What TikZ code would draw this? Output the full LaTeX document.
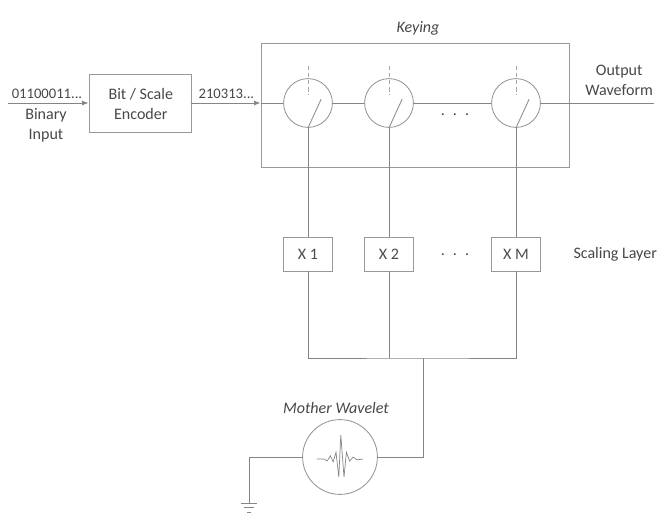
\documentclass[tikz,border=0pt]{standalone}
\usepackage{fontspec}
\setmainfont{Carlito}
\usepackage{tikz}
\usetikzlibrary{arrows.meta,calc,positioning}

\begin{document}
\begin{tikzpicture}[
font=\fontsize{11.4}{14.2}\selectfont,
wire/.style={line width=0.6pt, draw=black!48},
arrow/.style={-{Latex[length=1.6mm,width=1.2mm]}, line width=0.6pt, draw=black!48},
block/.style={draw=black!40, line width=0.6pt, align=center, text=black!70, inner sep=0pt},
switch/.style={circle, draw=black!42, line width=0.6pt, minimum size=1.22cm, inner sep=0pt},
label/.style={align=center, text=black!72, inner sep=0pt},
digits/.style={label, font=\fontsize{10.4}{12}\selectfont},
pole/.style={densely dashed, line width=0.4pt, draw=black!35},
blade/.style={line width=0.6pt, draw=black!45}
]
\useasboundingbox (0,0) rectangle (16.5,-12.925);

\node[block, minimum width=2.55cm, minimum height=1.45cm] (encoder) at (3.5,-2.575) {};
\node[block, minimum width=7.7cm, minimum height=3.1cm] (keyingbox) at (10.375,-2.625) {};
\node[switch] (sw1) at (7.7,-2.575) {};
\node[switch] (sw2) at (9.725,-2.575) {};
\node[switch] (sw3) at (12.9,-2.575) {};
\node[block, minimum width=1.225cm, minimum height=.85cm] (x1) at (7.7,-6.35) {X 1};
\node[block, minimum width=1.225cm, minimum height=.85cm] (x2) at (9.725,-6.35) {X 2};
\node[block, minimum width=1.225cm, minimum height=.85cm] (xm) at (12.9,-6.35) {X M};
\node[switch, minimum size=1.87cm] (wavelet) at (8.5,-11.425) {};

\node[digits] (bitsin) at (1.175,-2.34) {01100011...};
\node[label] (binary) at (1.15,-3.12) {Binary\\Input};
\node[label] (bitscale) at (3.52,-2.6) {Bit / Scale\\Encoder};
\node[digits] (symbols) at (5.66,-2.34) {210313...};
\node[label] (keying) at (10.45,-.7) {\itshape Keying};
\node[label] (output) at (15.48,-2.02) {Output\\Waveform};
\node[label] (dotsa) at (11.375,-2.86) {.\,\,\,.\,\,\,.};
\node[label] (dotsb) at (11.375,-6.36) {.\,\,\,.\,\,\,.};
\node[label] (scaling) at (15.38,-6.37) {Scaling Layer};
\node[label] (mother) at (8.4,-10.2) {\itshape Mother Wavelet};

\coordinate (start) at (.2,-2.575);
\coordinate (inlet) at (keyingbox.west |- encoder.east);
\coordinate (outlet) at (16.35,-2.575);
\coordinate (bus) at (10.575,-8.95);
\coordinate (feed) at (10.575,-11.425);
\coordinate (gndtop) at (6.225,-11.425);
\coordinate (gnd) at (6.225,-12.575);

\draw[arrow] (start) -- (encoder.west);
\draw[arrow] (encoder.east) -- (inlet);
\draw[wire] (inlet) -- (sw1.west);
\draw[wire] (sw1.east) -- (sw2.west);
\draw[wire] (sw2.east) -- (sw3.west);
\draw[wire] (sw3.east) -- (outlet);

\draw[wire] (x1.north) -- (sw1.south);
\draw[wire] (x2.north) -- (sw2.south);
\draw[wire] (xm.north) -- (sw3.south);
\draw[wire] (x1.south) |- (bus) -| (xm.south);
\draw[wire] (x2.south) -- (x2.south |- bus);
\draw[wire] (wavelet.east) -- (feed) -- (bus);
\draw[wire] (wavelet.west) -- (gndtop) -- (gnd);

\draw[pole] ($(sw1.center)+(0,.92)$) -- ($(sw1.center)+(0,.2)$);
\draw[pole] ($(sw2.center)+(0,.92)$) -- ($(sw2.center)+(0,.2)$);
\draw[pole] ($(sw3.center)+(0,.92)$) -- ($(sw3.center)+(0,.2)$);
\draw[blade] (sw1.south) -- ++(.33,.72);
\draw[blade] (sw2.south) -- ++(.33,.72);
\draw[blade] (sw3.south) -- ++(.33,.72);

\draw[wire] ($(gnd)+(-.2,0)$) -- ($(gnd)+(.2,0)$);
\draw[wire] ($(gnd)+(-.13,-.12)$) -- ($(gnd)+(.13,-.12)$);
\draw[wire] ($(gnd)+(-.05,-.24)$) -- ($(gnd)+(.05,-.24)$);

\draw[wire, line width=0.5pt, shift={(wavelet.center)}] (-.58,-.05) -- (-.4,-.05) -- (-.32,-.1) -- (-.24,.03) -- (-.17,-.12) -- (-.1,.12) -- (-.03,-.5) -- (.02,.55) -- (.1,-.5) -- (.16,.12) -- (.24,-.1) -- (.33,0) -- (.42,-.07) -- (.58,-.05);
\end{tikzpicture}
\end{document}
